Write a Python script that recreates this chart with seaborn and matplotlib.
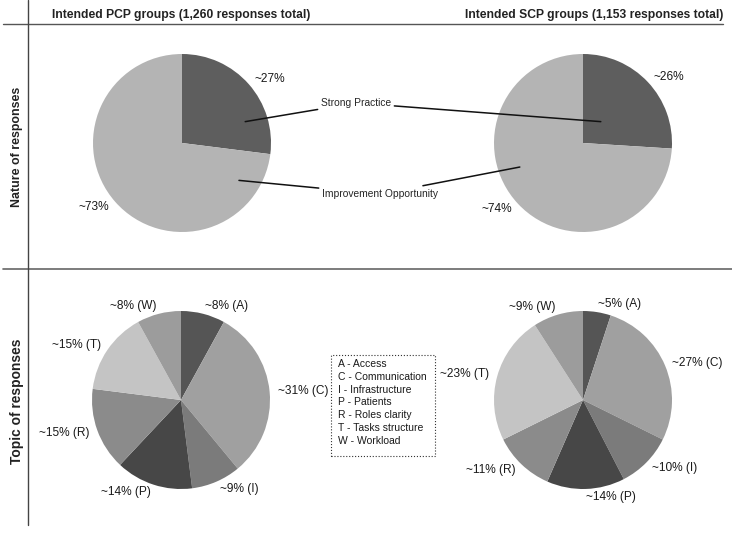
import matplotlib
matplotlib.use('Agg')
import matplotlib.pyplot as plt
import seaborn as sns
from matplotlib.patches import Rectangle
from matplotlib.lines import Line2D

# Datos
nature_labels = ['Strong Practice', 'Improvement Opportunity']
nature_pcp = [27, 73]
nature_scp = [26, 74]
nature_colors = ['#5e5e5e', '#b4b4b4']

topic_keys = ['A', 'C', 'I', 'P', 'R', 'T', 'W']
topic_names = ['Access', 'Communication', 'Infrastructure', 'Patients',
               'Roles clarity', 'Tasks structure', 'Workload']
topic_pcp = [8, 31, 9, 14, 15, 15, 8]
topic_scp = [5, 27, 10, 14, 11, 23, 9]
topic_colors = ['#555555', '#a0a0a0', '#7b7b7b', '#474747', '#8b8b8b', '#c4c4c4', '#9c9c9c']

col_titles = ['Intended PCP groups (1,260 responses total)',
              'Intended SCP groups (1,153 responses total)']
row_titles = ['Nature of responses', 'Topic of responses']

sns.set_theme(style='white')
plt.rcParams['font.family'] = ['Liberation Sans', 'DejaVu Sans']

W, H = 732, 536
fig = plt.figure(figsize=(W / 100, H / 100), dpi=100)
R = 89


def pie_ax(cx, cy):
    # cx, cy en pixeles desde arriba-izquierda
    return fig.add_axes([(cx - R) / W, (H - cy - R) / H, 2 * R / W, 2 * R / H])


def draw_pie(ax, vals, colors, labels):
    ax.pie(vals, colors=colors, labels=labels, startangle=90, counterclock=False,
           labeldistance=1.09, wedgeprops={'linewidth': 0},
           textprops={'fontsize': 8.6, 'color': '#1a1a1a'})
    ax.set_xlim(-1, 1)
    ax.set_ylim(-1, 1)
    ax.set_aspect('equal')
    ax.axis('off')


ax_tl = pie_ax(182, 143)
ax_tr = pie_ax(583, 143)
ax_bl = pie_ax(181, 400)
ax_br = pie_ax(583, 400)

draw_pie(ax_tl, nature_pcp, nature_colors, [f'~{v}%' for v in nature_pcp])
draw_pie(ax_tr, nature_scp, nature_colors, [f'~{v}%' for v in nature_scp])
draw_pie(ax_bl, topic_pcp, topic_colors, [f'~{v}% ({k})' for v, k in zip(topic_pcp, topic_keys)])
draw_pie(ax_br, topic_scp, topic_colors, [f'~{v}% ({k})' for v, k in zip(topic_scp, topic_keys)])

# Anotaciones con lineas
arrow = dict(arrowstyle='-', color='#111111', lw=1.1, shrinkA=0, shrinkB=0)
ax_tl.annotate(nature_labels[0], xy=(0.71, 0.24), xytext=(356, H - 103),
               textcoords='figure pixels', ha='center', va='center', fontsize=7.4,
               arrowprops=arrow)
ax_tr.annotate(nature_labels[0], xy=(0.2, 0.24), xytext=(356, H - 103),
               textcoords='figure pixels', ha='center', va='center', fontsize=7.4,
               color='none', arrowprops=arrow)
ax_tl.annotate(nature_labels[1], xy=(0.64, -0.42), xytext=(380, H - 194),
               textcoords='figure pixels', ha='center', va='center', fontsize=7.4,
               arrowprops=arrow)
ax_tr.annotate(nature_labels[1], xy=(-0.71, -0.27), xytext=(380, H - 194),
               textcoords='figure pixels', ha='center', va='center', fontsize=7.4,
               color='none', arrowprops=arrow)

# Leyenda de temas
fig.patches.append(Rectangle((331 / W, (H - 456) / H), 104 / W, 101 / H,
                             transform=fig.transFigure, fill=False,
                             ec='#333333', lw=0.8, ls=':'))
for i, (k, n) in enumerate(zip(topic_keys, topic_names)):
    fig.text(338 / W, (H - 364 - i * 12.8) / H, f'{k} - {n}', fontsize=7.5,
             ha='left', va='center', color='#1a1a1a')

# Titulos de columnas y filas
fig.text(52 / W, (H - 15) / H, col_titles[0], fontsize=8.7, fontweight='bold',
         ha='left', va='center', color='#222222')
fig.text(723 / W, (H - 15) / H, col_titles[1], fontsize=8.7, fontweight='bold',
         ha='right', va='center', color='#222222')
fig.text(17 / W, (H - 147) / H, row_titles[0], fontsize=8.9, fontweight='bold',
         rotation=90, ha='center', va='center', color='#222222')
fig.text(17 / W, (H - 401) / H, row_titles[1], fontsize=9.9, fontweight='bold',
         rotation=90, ha='center', va='center', color='#222222')

# Lineas de la tabla
fig.add_artist(Line2D([3 / W, 723 / W], [(H - 24) / H] * 2, color='#555555', lw=1.0))
fig.add_artist(Line2D([3 / W, 1.0], [(H - 269) / H] * 2, color='#666666', lw=1.2))
fig.add_artist(Line2D([28 / W] * 2, [1.0, (H - 525) / H], color='#444444', lw=1.0))

plt.savefig('out.png', dpi=100)
